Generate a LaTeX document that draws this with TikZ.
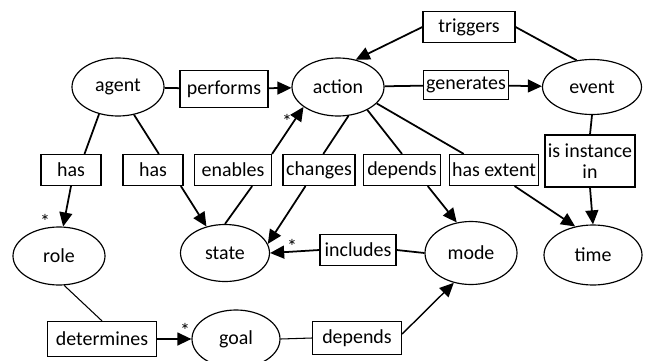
\documentclass[tikz,border=0pt]{standalone}
\usepackage{fontspec}
\setmainfont{Carlito}
\usetikzlibrary{arrows.meta,shapes.geometric,positioning}

\begin{document}
\begin{tikzpicture}[x=0.03cm,y=-0.03cm,
  font=\fontsize{17}{19}\selectfont,
  concept/.style={draw,ellipse,line width=1pt,inner sep=0pt,minimum width=2.76cm,minimum height=1.74cm},
  rel/.style={draw,rectangle,line width=1pt,inner sep=2pt,minimum height=0.93cm},
  link/.style={line width=1.5pt},
  thinlink/.style={line width=0.9pt},
  arr/.style={line width=1.5pt,-{Triangle[length=12pt,width=11pt]}},
  star/.style={font=\fontsize{17}{17}\selectfont,inner sep=0pt}]
\clip (0,0) rectangle (647,360);
% concepts
\node [concept] (agent) at (118,87) {agent};
\node [concept] (action) at (338,87) {action};
\node [concept,minimum width=2.97cm,minimum height=1.65cm] (event) at (592,87) {event};
\node [concept] (role) at (59,256) {role};
\node [concept,minimum width=2.67cm,minimum height=1.71cm] (state) at (225,253) {state};
\node [concept,minimum height=1.89cm] (mode) at (471,253) {mode};
\node [concept,minimum width=2.94cm,minimum height=1.8cm] (time) at (593,255) {time};
\node [concept,minimum width=2.64cm,minimum height=1.74cm] (goal) at (236,339) {goal};
% relations
\node [rel,minimum width=2.64cm,minimum height=1.11cm] (performs) at (224,89) {performs};
\node [rel,minimum width=2.76cm] (triggers) at (469,27) {triggers};
\node [rel,minimum width=2.49cm,minimum height=0.87cm] (generates) at (466,85) {generates};
\node [rel,minimum width=1.8cm] (has1) at (71,170) {has};
\node [rel,minimum width=1.8cm] (has2) at (153,170) {has};
\node [rel,minimum width=2.31cm] (enables) at (233,170) {enables};
\node [rel,minimum width=2.16cm] (changes) at (319,170) {changes};
\node [rel,minimum width=2.31cm] (depends1) at (402,170) {depends};
\node [rel,minimum width=2.64cm] (extent) at (494,170) {has extent};
\node [rel,minimum width=2.7cm,minimum height=1.56cm,align=center,
  font=\fontsize{17}{18}\selectfont] (instance) at (590,161) {is instance\\in};
\node [rel,minimum width=2.28cm] (includes) at (358,250) {includes};
\node [rel,minimum width=3.27cm,minimum height=1.05cm] (determines) at (102,339) {determines};
\node [rel,minimum width=2.67cm,minimum height=1cm] (depends2) at (357,338) {depends};
% connectors
\draw [link] (agent) -- (performs);
\draw [arr] (performs) -- (action);
\draw [arr] (triggers.west) -- (action.57);
\draw [link] (triggers.east) -- (event.120);
\draw [link] (action) -- (generates);
\draw [arr] (generates) -- (event);
\draw [link] (agent.235) -- (has1.50);
\draw [arr] (has1.south) -- (role.82);
\draw [link] (agent.300) -- (has2.70);
\draw [arr] (has2.-30) -- (state.125);
\draw [link] (state.north) -- (enables.-40);
\draw [arr] (enables.north east) -- (action.210);
\draw [link] (action.290) -- (changes.75);
\draw [arr] (changes.-130) -- (state.12);
\draw [link] (action.322) -- (depends1.north);
\draw [arr] (depends1.-32) -- (mode.115);
\draw [link] (action.337) -- (extent.152);
\draw [arr] (extent.-38) -- (time.122);
\draw [link] (event.south) -- (instance.north);
\draw [arr] (instance.south) -- (time.north);
\draw [link] (mode.west) -- (includes.east);
\draw [arr] (includes.west) -- (state.east);
\draw [thinlink] (role.280) -- (determines.north);
\draw [arr] (determines.east) -- (goal.west);
\draw [thinlink] (goal.east) -- (depends2.west);
\draw [arr,line width=1.2pt] (depends2.5) -- (mode.240);
% multiplicities
\node [star] (s1) at (45,221) {*};
\node [star] (s2) at (287,121) {*};
\node [star] (s3) at (292,246) {*};
\node [star] (s4) at (185,330) {*};
\end{tikzpicture}
\end{document}
